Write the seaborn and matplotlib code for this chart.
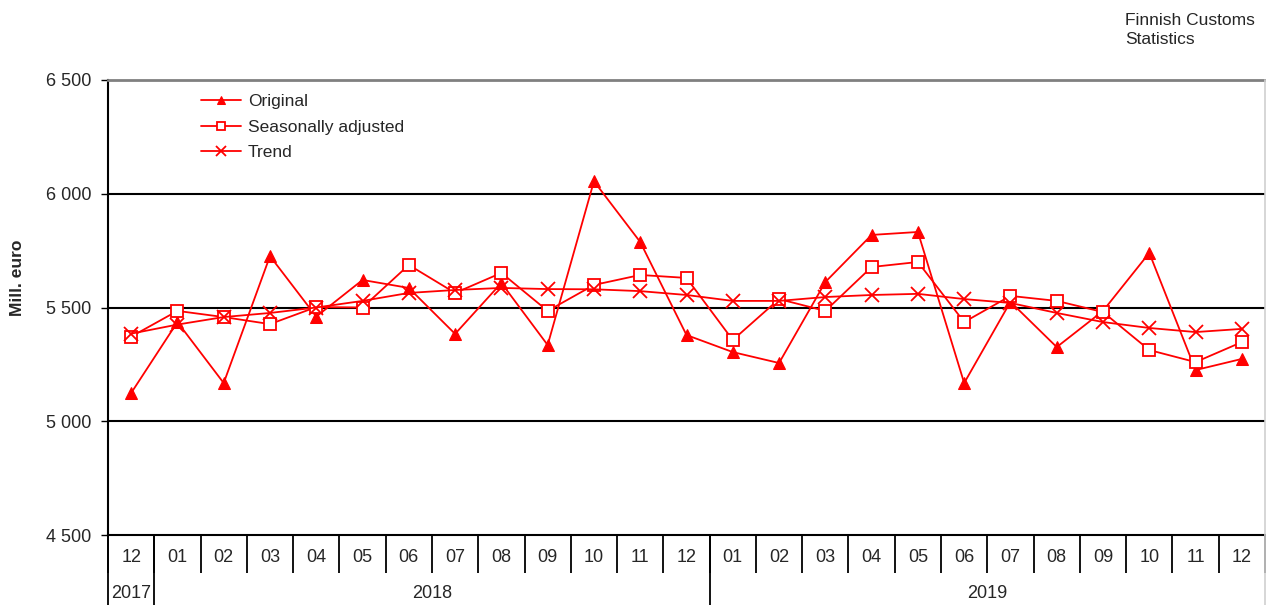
import numpy as np
import pandas as pd
import seaborn as sns
import matplotlib.pyplot as plt
import matplotlib.transforms as mtransforms

# DONNEES (Mill. euro)
months = ["12", "01", "02", "03", "04", "05", "06", "07", "08", "09", "10", "11", "12",
          "01", "02", "03", "04", "05", "06", "07", "08", "09", "10", "11", "12"]
years = ["2017", "2018", "2019"]
year_spans = [(0, 0), (1, 12), (13, 24)]

original = [5124, 5436, 5168, 5726, 5460, 5621, 5586, 5384, 5608, 5335, 6055, 5788, 5379,
            5304, 5256, 5612, 5819, 5832, 5168, 5525, 5326, 5485, 5740, 5225, 5274]
seas_adj = [5372, 5485, 5458, 5427, 5502, 5500, 5687, 5564, 5652, 5485, 5599, 5643, 5630,
            5357, 5537, 5485, 5678, 5700, 5436, 5551, 5529, 5480, 5313, 5260, 5348]
trend = [5385, 5425, 5458, 5476, 5500, 5529, 5564, 5577, 5586, 5581, 5580, 5572, 5555,
         5529, 5529, 5546, 5555, 5560, 5537, 5520, 5476, 5436, 5410, 5392, 5406]

y_ticks = [4500, 5000, 5500, 6000, 6500]
y_labels = ["4 500", "5 000", "5 500", "6 000", "6 500"]

sns.set_style("white")
plt.rcParams['font.family'] = ['Liberation Sans', 'DejaVu Sans']

df = pd.DataFrame({"pos": np.arange(len(months)), "Original": original,
                   "Seasonally adjusted": seas_adj, "Trend": trend})

fig = plt.figure(figsize=(12.66, 6.05), dpi=100)
ax = fig.add_axes([108 / 1266, 1 - 535 / 605, 1157 / 1266, 455 / 605])

red = "#ff0000"
sns.lineplot(data=df, x="pos", y="Original", ax=ax, color=red, lw=1.3, marker="^",
             markersize=8, markeredgecolor=red, markerfacecolor=red, label="Original")
sns.lineplot(data=df, x="pos", y="Seasonally adjusted", ax=ax, color=red, lw=1.3, marker="s",
             markersize=8, markeredgecolor=red, markerfacecolor="white", markeredgewidth=1.3,
             label="Seasonally adjusted")
sns.lineplot(data=df, x="pos", y="Trend", ax=ax, color=red, lw=1.3, marker="x",
             markersize=10, markeredgecolor=red, markeredgewidth=1.3, label="Trend")

ax.set_xlim(-0.5, len(months) - 0.5)
ax.set_ylim(4500, 6500)

# grille horizontale
for v in [5000, 5500, 6000]:
    ax.axhline(v, color="black", lw=1.5, zorder=0)

ax.set_yticks(y_ticks)
ax.set_yticklabels(y_labels, fontsize=13)
ax.tick_params(axis="y", length=5, width=1, color="black", direction="out", pad=7, left=True)

# axe x : mois + separateurs
ax.set_xticks(np.arange(len(months)))
ax.set_xticklabels(months, fontsize=13)
ax.set_xticks(np.arange(len(months) + 1) - 0.5, minor=True)
ax.tick_params(axis="x", which="major", length=0, pad=10)
ax.tick_params(axis="x", which="minor", length=27, width=1.3, color="black",
               direction="out", bottom=True)
ax.set_xlabel("")
ax.set_ylabel("")

for s in ["left", "bottom"]:
    ax.spines[s].set_color("black")
    ax.spines[s].set_linewidth(1.5)
ax.spines["top"].set_color("#808080")
ax.spines["top"].set_linewidth(2)
ax.spines["right"].set_visible(False)

# ligne des annees
trans = mtransforms.blended_transform_factory(ax.transData, ax.transAxes)
for (a, b) in year_spans:
    ax.plot([a - 0.5, a - 0.5], [0, -0.16], color="black", lw=1.3, transform=trans, clip_on=False)
for yr, (a, b) in zip(years, year_spans):
    ax.text((a + b) / 2, -0.128, yr, ha="center", va="center", fontsize=13, transform=trans)

# bord droit gris clair
fig.add_artist(plt.Line2D([1264.5 / 1266, 1264.5 / 1266], [0, 1 - 80 / 605],
                          color="#d0d0d0", lw=1.2, transform=fig.transFigure))

ax.legend(loc="upper left", bbox_to_anchor=(0.070, 0.996), frameon=False, fontsize=12.5,
          handlelength=2.3, handletextpad=0.4, labelspacing=0.6, borderaxespad=0.3,
          markerscale=0.75)

fig.text(18 / 1266, 1 - 278 / 605, "Mill. euro", rotation=90, ha="center", va="center",
         fontsize=12.5, fontweight="bold")
fig.text(1125 / 1266, 1 - 13 / 605, "Finnish Customs\nStatistics", ha="left", va="top",
         fontsize=12.5, linespacing=1.35)

plt.savefig("out.png", dpi=100)
